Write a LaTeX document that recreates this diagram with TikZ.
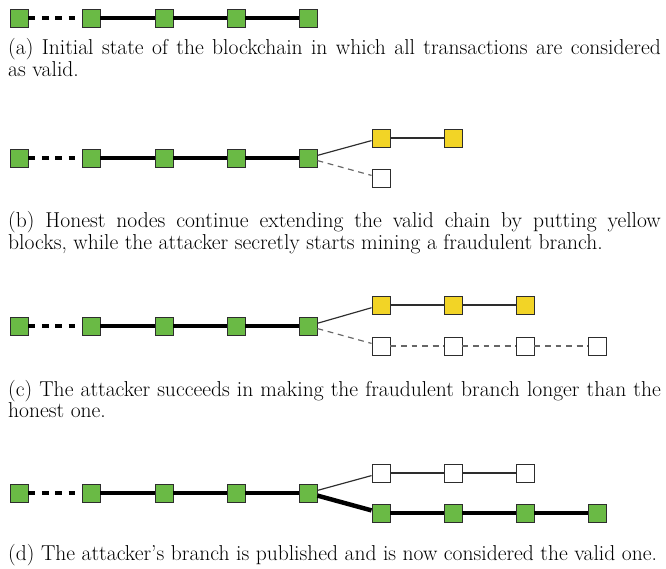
\documentclass[tikz,border=0pt]{standalone}
\usepackage{tikz}
\definecolor{blk_green}{RGB}{106, 186, 69}
\definecolor{blk_yellow}{RGB}{242, 212, 38}
\definecolor{blk_edge}{RGB}{45, 45, 45}
\tikzstyle{gb}=[rectangle,fill=blk_green,draw=blk_edge,
  line width=0.8 pt,inner sep=0pt,minimum size=0.54cm]
\tikzstyle{yb}=[rectangle,fill=blk_yellow,draw=blk_edge,
  line width=0.8 pt,inner sep=0pt,minimum size=0.54cm]
\tikzstyle{wb}=[rectangle,fill=white,draw=blk_edge,
  line width=0.8 pt,inner sep=0pt,minimum size=0.54cm]
\tikzstyle{main}=[line width=3.8pt,draw=black]
\tikzstyle{dots}=[line width=3.8pt,draw=black,dash pattern=on 5.8pt off 5.6pt]
\tikzstyle{fork}=[line width=1pt,draw=blk_edge]
\tikzstyle{hid}=[line width=1pt,draw=black!60,dash pattern=on 5pt off 4pt]
\tikzstyle{capt}=[anchor=base west,inner sep=0pt,text width=557pt,align=justify,
  font=\fontsize{18.4}{12.9}\selectfont]

\begin{document}
\begin{tikzpicture}[x=0.03cm,y=-0.03cm]
    \useasboundingbox (0,0) rectangle (666,569);
    % (a)
    \node [style=gb] (a0) at (19,18) {};
    \node [style=gb] (a1) at (91,18) {};
    \node [style=gb] (a2) at (164,18) {};
    \node [style=gb] (a3) at (236,18) {};
    \node [style=gb] (a4) at (308,18) {};
    \draw [style=dots] (a0) to (a1);
    \draw [style=main] (a1) to (a2);
    \draw [style=main] (a2) to (a3);
    \draw [style=main] (a3) to (a4);
    \node [style=capt] (capa) at (8,55) {(a) Initial state of the blockchain in which all transactions are considered\linebreak as valid.};
    % (b)
    \node [style=gb] (b0) at (19,158) {};
    \node [style=gb] (b1) at (91,158) {};
    \node [style=gb] (b2) at (164,158) {};
    \node [style=gb] (b3) at (236,158) {};
    \node [style=gb] (b4) at (308,158) {};
    \node [style=yb] (b5) at (381,138) {};
    \node [style=yb] (b6) at (453,138) {};
    \node [style=wb] (b7) at (381,178) {};
    \draw [style=dots] (b0) to (b1);
    \draw [style=main] (b1) to (b2);
    \draw [style=main] (b2) to (b3);
    \draw [style=main] (b3) to (b4);
    \draw [style=fork] (b4) to (b5);
    \draw [style=fork] (b5) to (b6);
    \draw [style=hid] (b4) to (b7);
    \node [style=capt] (capb) at (8,228) {(b) Honest nodes continue extending the valid chain by putting yellow\linebreak blocks, while the attacker secretly starts mining a fraudulent branch.};
    % (c)
    \node [style=gb] (c0) at (19,326) {};
    \node [style=gb] (c1) at (91,326) {};
    \node [style=gb] (c2) at (164,326) {};
    \node [style=gb] (c3) at (236,326) {};
    \node [style=gb] (c4) at (308,326) {};
    \node [style=yb] (c5) at (381,305) {};
    \node [style=yb] (c6) at (453,305) {};
    \node [style=yb] (c7) at (525,305) {};
    \node [style=wb] (c8) at (381,346) {};
    \node [style=wb] (c9) at (453,346) {};
    \node [style=wb] (c10) at (525,346) {};
    \node [style=wb] (c11) at (597,346) {};
    \draw [style=dots] (c0) to (c1);
    \draw [style=main] (c1) to (c2);
    \draw [style=main] (c2) to (c3);
    \draw [style=main] (c3) to (c4);
    \draw [style=fork] (c4) to (c5);
    \draw [style=fork] (c5) to (c6);
    \draw [style=fork] (c6) to (c7);
    \draw [style=hid] (c4) to (c8);
    \draw [style=hid] (c8) to (c9);
    \draw [style=hid] (c9) to (c10);
    \draw [style=hid] (c10) to (c11);
    \node [style=capt] (capc) at (8,396) {(c) The attacker succeeds in making the fraudulent branch longer than the\linebreak honest one.};
    % (d)
    \node [style=gb] (d0) at (19,493) {};
    \node [style=gb] (d1) at (91,493) {};
    \node [style=gb] (d2) at (164,493) {};
    \node [style=gb] (d3) at (236,493) {};
    \node [style=gb] (d4) at (308,493) {};
    \node [style=wb] (d5) at (381,473) {};
    \node [style=wb] (d6) at (453,473) {};
    \node [style=wb] (d7) at (525,473) {};
    \node [style=gb] (d8) at (381,513) {};
    \node [style=gb] (d9) at (453,513) {};
    \node [style=gb] (d10) at (525,513) {};
    \node [style=gb] (d11) at (597,513) {};
    \draw [style=dots] (d0) to (d1);
    \draw [style=main] (d1) to (d2);
    \draw [style=main] (d2) to (d3);
    \draw [style=main] (d3) to (d4);
    \draw [style=fork] (d4) to (d5);
    \draw [style=fork] (d5) to (d6);
    \draw [style=fork] (d6) to (d7);
    \draw [style=main] (d4) to (d8);
    \draw [style=main] (d8) to (d9);
    \draw [style=main] (d9) to (d10);
    \draw [style=main] (d10) to (d11);
    \node [style=capt] (capd) at (8,560) {(d) The attacker's branch is published and is now considered the valid one.};
  \end{tikzpicture}
\end{document}
